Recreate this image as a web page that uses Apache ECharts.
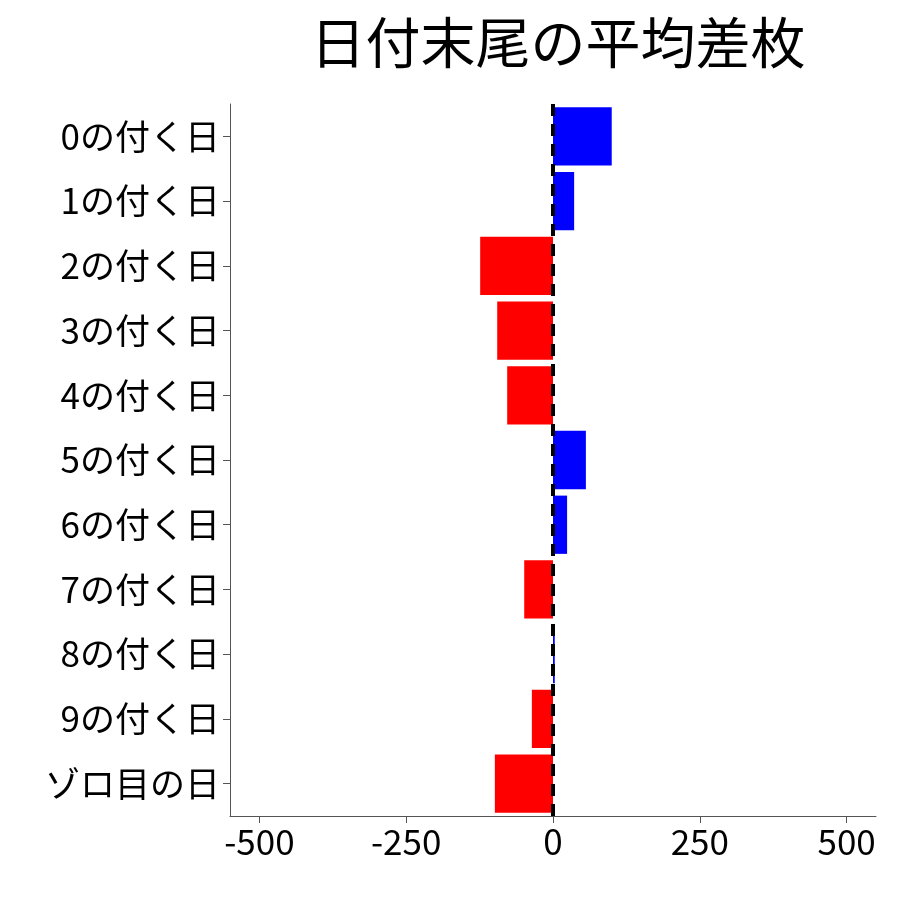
<!DOCTYPE html>
<html>
<head>
<meta charset="utf-8">
<script src="https://cdn.jsdelivr.net/npm/echarts@6/dist/echarts.min.js"></script>
<style>html,body{margin:0;padding:0;background:#fff}#chart{width:900px;height:900px}</style>
</head>
<body>
<div id="chart"></div>
<script>
var categories = ['0の付く日','1の付く日','2の付く日','3の付く日','4の付く日','5の付く日','6の付く日','7の付く日','8の付く日','9の付く日','ゾロ目の日'];
var values = [100, 36, -124, -95, -78, 56, 24, -49, 3, -36, -99];
var xTicks = [-500, -250, 0, 250, 500];

var chart = echarts.init(document.getElementById('chart'));
var font = '"Noto Sans CJK JP", sans-serif';

chart.setOption({
    animation: false,
    title: {
        text: '日付末尾の平均差枚',
        left: 553,
        textAlign: 'center',
        top: 10,
        textStyle: {fontFamily: font, fontSize: 55, fontWeight: 'normal', color: '#000'}
    },
    grid: {left: 230, right: 24, top: 104, bottom: 84},
    xAxis: {
        type: 'value',
        min: -550,
        max: 550,
        splitLine: {show: false},
        axisLine: {show: true, onZero: false, lineStyle: {color: '#555'}},
        axisTick: {show: true, customValues: xTicks, length: 7, lineStyle: {color: '#555'}},
        axisLabel: {customValues: xTicks, fontFamily: font, fontSize: 35, color: '#000', margin: 8}
    },
    yAxis: {
        type: 'category',
        inverse: true,
        data: categories,
        axisLine: {show: true, onZero: false, lineStyle: {color: '#555'}},
        axisTick: {show: true, alignWithLabel: true, length: 7, lineStyle: {color: '#555'}},
        axisLabel: {fontFamily: font, fontSize: 35, color: '#000', margin: 10}
    },
    series: [{
        type: 'bar',
        barCategoryGap: '10%',
        data: values.map(function(v){
            return {value: v, itemStyle: {color: v >= 0 ? '#0000ff' : '#ff0000'}};
        }),
        markLine: {
            silent: true,
            symbol: 'none',
            label: {show: false},
            lineStyle: {color: '#000', type: [12, 8], width: 4},
            data: [{xAxis: 0}]
        }
    }]
});
</script>
</body>
</html>
